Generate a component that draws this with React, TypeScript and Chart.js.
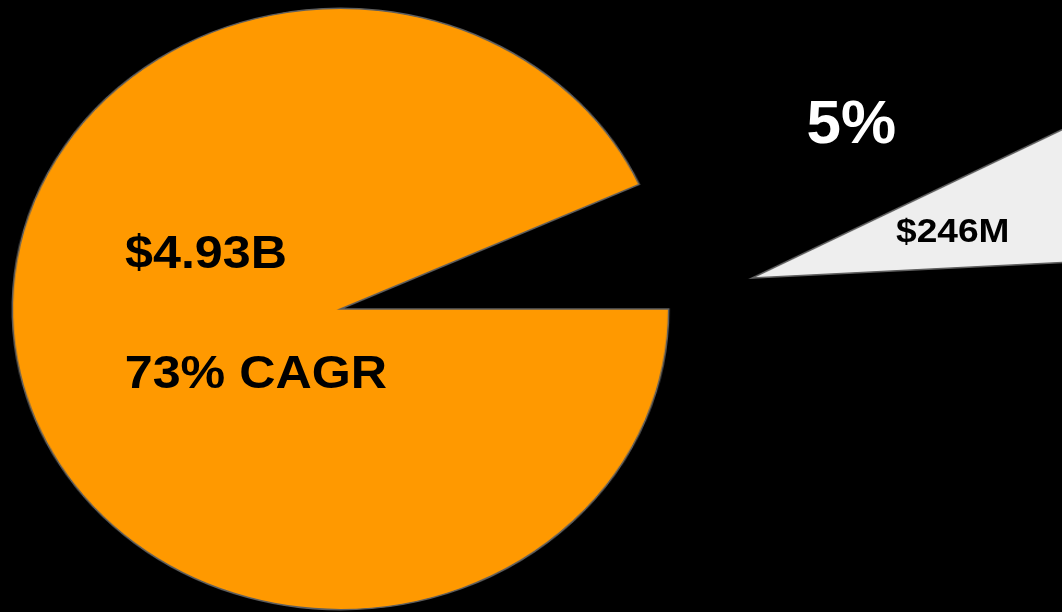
import React, { useEffect, useRef } from "react";
import { Chart, registerables } from "chart.js";

Chart.register(...registerables);

// ---- data ----
const categories = ["Core market", "New segment"];
const sliceShares = [93.2, 6.8];
const valueLabels = ["$4.93B", "$246M"];
const noteLabels = ["73% CAGR", "5%"];
const sliceColors = ["#FF9900", "#EEEEEE"];

// ---- layout ----
const STRETCH_X = 1.0914; // the whole picture is stretched horizontally
const BORDER = "#5f5f5f";
const FONT = "'Liberation Sans', Arial, Helvetica, sans-serif";

function buildPie(
  canvas: HTMLCanvasElement,
  visibleIndex: number,
  rotation: number,
  radius: number
) {
  return new Chart(canvas, {
    type: "pie",
    data: {
      labels: categories,
      datasets: [
        {
          data: sliceShares,
          backgroundColor: sliceColors.map((c, i) =>
            i === visibleIndex ? c : "rgba(0,0,0,0)"
          ),
          borderColor: sliceColors.map((_, i) =>
            i === visibleIndex ? BORDER : "rgba(0,0,0,0)"
          ),
          borderWidth: 1.5,
          borderJoinStyle: "miter",
        },
      ],
    },
    options: {
      animation: false,
      responsive: false,
      devicePixelRatio: 1,
      rotation,
      radius,
      events: [],
      layout: { padding: 0 },
      plugins: {
        legend: { display: false },
        tooltip: { enabled: false },
      },
    } as any,
  });
}

export default function App() {
  const mainRef = useRef<HTMLCanvasElement>(null);
  const sliceRef = useRef<HTMLCanvasElement>(null);

  useEffect(() => {
    const main = buildPie(mainRef.current!, 0, 90, 300.7);
    const exploded = buildPie(sliceRef.current!, 1, 86.9, 340);
    return () => {
      main.destroy();
      exploded.destroy();
    };
  }, []);

  const textBase: React.CSSProperties = {
    position: "absolute",
    fontFamily: FONT,
    fontWeight: 700,
    lineHeight: 1,
    whiteSpace: "nowrap",
    margin: 0,
  };

  return (
    <div
      style={{
        position: "fixed",
        left: 0,
        top: 0,
        width: 1062,
        height: 612,
        overflow: "hidden",
        background: "#000",
      }}
    >
      <div
        style={{
          position: "absolute",
          left: 0,
          top: 0,
          width: 1062 / STRETCH_X,
          height: 612,
          transform: `scaleX(${STRETCH_X})`,
          transformOrigin: "0 0",
        }}
      >
        <canvas
          ref={mainRef}
          width={640}
          height={640}
          style={{ position: "absolute", left: -7.7, top: -10.6 }}
        />
        <canvas
          ref={sliceRef}
          width={720}
          height={720}
          style={{ position: "absolute", left: 328.7, top: -81.7 }}
        />
        <div style={{ ...textBase, left: 114.6, top: 229.1, fontSize: 46, color: "#000" }}>
          {valueLabels[0]}
        </div>
        <div style={{ ...textBase, left: 114.3, top: 349.4, fontSize: 46, color: "#000" }}>
          {noteLabels[0]}
        </div>
        <div style={{ ...textBase, left: 821, top: 212.9, fontSize: 34, color: "#000" }}>
          {valueLabels[1]}
        </div>
      </div>
      <div style={{ ...textBase, left: 806.5, top: 90.8, fontSize: 62, color: "#fff" }}>
        {noteLabels[1]}
      </div>
    </div>
  );
}
